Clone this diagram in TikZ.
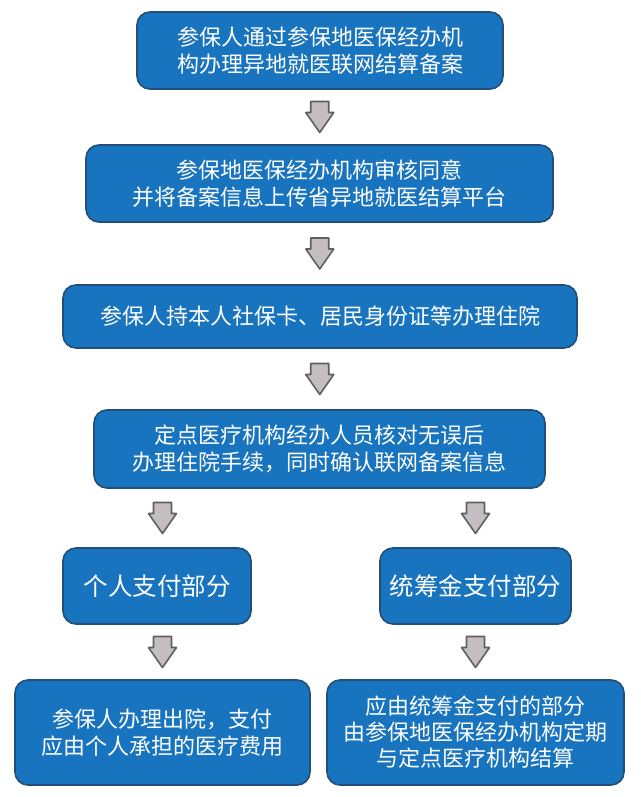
\documentclass[tikz,border=0pt]{standalone}
\usepackage{fontspec}
\newfontfamily\cjk{Noto Sans CJK SC}
\usetikzlibrary{calc}
\definecolor{boxfill}{RGB}{24,116,190}
\definecolor{boxline}{RGB}{34,78,120}
\definecolor{arrfill}{RGB}{196,190,194}
\definecolor{arrline}{RGB}{96,96,96}
\tikzset{
  flowbox/.style={draw=boxline, line width=1.6pt, fill=boxfill, rounded corners=13pt,
    text=white, align=center, inner sep=0pt, font=\cjk\fontsize{22}{27}\selectfont},
  bigtext/.style={font=\cjk\fontsize{24.5}{29}\selectfont},
  blockarrow/.style={draw=arrline, fill=arrfill, line width=1.6pt, line join=round},
  pics/downarr/.style={code={
    \path[blockarrow] (-9,-15.5) -- (9,-15.5) -- (9,-4.5) -- (14,-4.5) -- (0,15.5)
      -- (-14,-4.5) -- (-9,-4.5) -- cycle;}}
}
\begin{document}
\begin{tikzpicture}[x=1pt,y=-1pt]
\useasboundingbox[fill=white] (0,0) rectangle (640,797);
\node[flowbox, minimum width=366pt, minimum height=77pt] (b1) at (320,50.5)
  {参保人通过参保地医保经办机\\构办理异地就医联网结算备案};
\node[flowbox, minimum width=467pt, minimum height=77pt] (b2) at (319.5,183.5)
  {参保地医保经办机构审核同意\\并将备案信息上传省异地就医结算平台};
\node[flowbox, minimum width=514pt, minimum height=63pt] (b3) at (320,316.5)
  {参保人持本人社保卡、居民身份证等办理住院};
\node[flowbox, minimum width=451pt, minimum height=78pt] (b4) at (319.5,449)
  {定点医疗机构经办人员核对无误后\\办理住院手续，同时确认联网备案信息};
\node[flowbox, bigtext, minimum width=188pt, minimum height=76pt] (b5) at (157,586)
  {个人支付部分};
\node[flowbox, bigtext, minimum width=191pt, minimum height=76pt] (b6) at (475.5,586)
  {统筹金支付部分};
\node[flowbox, minimum width=295pt, minimum height=105pt] (b7) at (162.5,732.5)
  {参保人办理出院，支付\\应由个人承担的医疗费用};
\node[flowbox, font=\cjk\fontsize{22}{26}\selectfont, minimum width=297pt, minimum height=105pt] (b8) at (475.5,732.5)
  {应由统筹金支付的部分\\由参保地医保经办机构定期\\与定点医疗机构结算};
% block arrows, centred between the boxes they join
\coordinate (m1) at ($(b1.south)!0.5!(b2.north)$);
\coordinate (m2) at ($(b2.south)!0.5!(b3.north)$);
\coordinate (m3) at ($(b3.south)!0.5!(b4.north)$);
\coordinate (m4) at ($(b4.south -| b7.north)!0.5!(b5.north -| b7.north)$);
\coordinate (m5) at ($(b4.south -| b8.north)!0.5!(b6.north -| b8.north)$);
\coordinate (m6) at ($(b5.south -| b7.north)!0.5!(b7.north)$);
\coordinate (m7) at ($(b6.south -| b8.north)!0.5!(b8.north)$);
\foreach \m in {m1,m2,m3,m4,m5,m6,m7} \pic at (\m) {downarr};
\end{tikzpicture}
\end{document}
